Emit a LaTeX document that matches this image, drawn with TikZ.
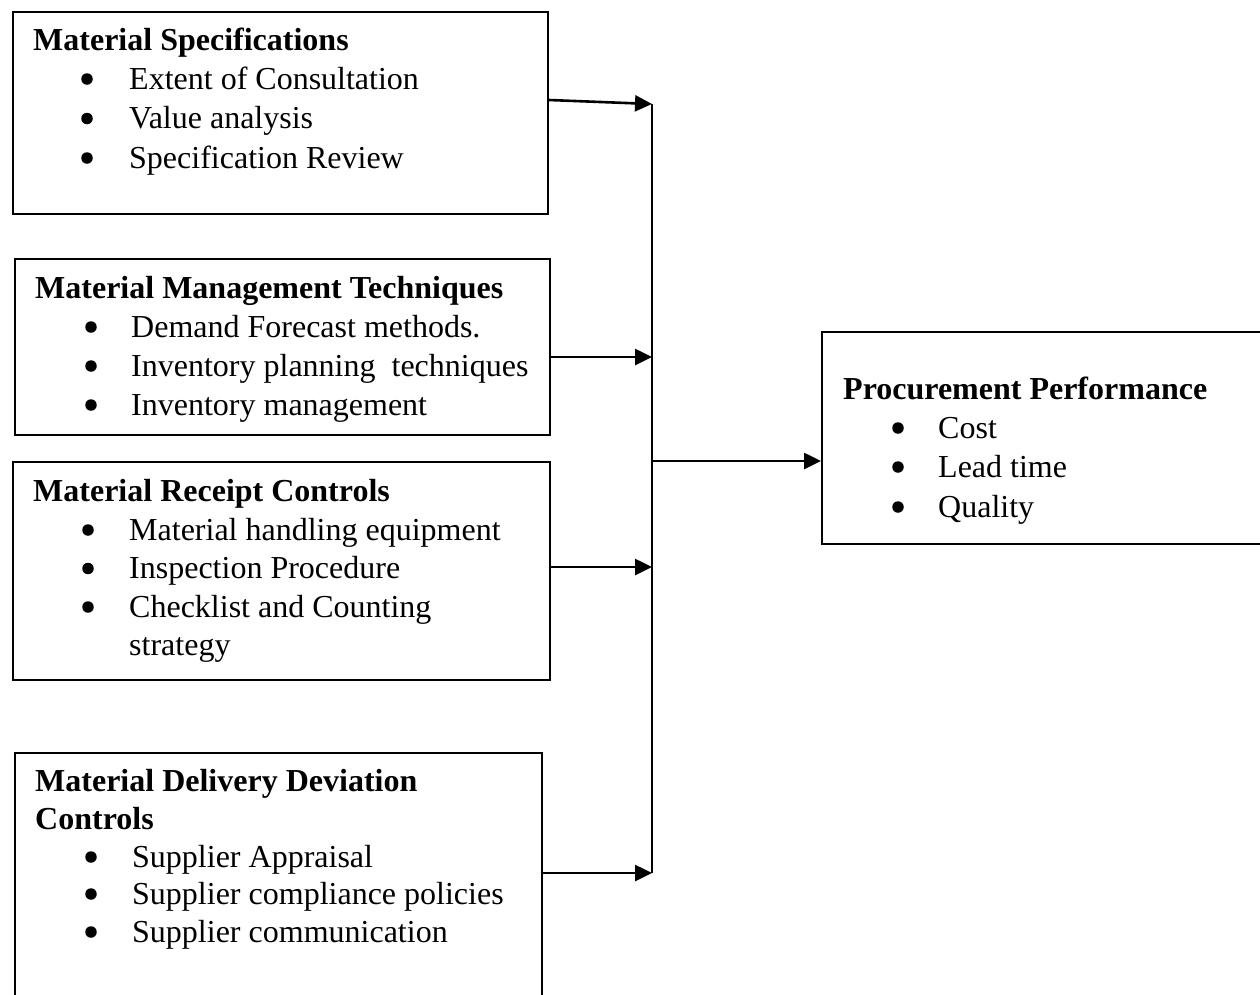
\documentclass[tikz,border=0pt]{standalone}
\usepackage{fontspec}
\setmainfont{Liberation Serif}
\usetikzlibrary{arrows.meta}
\begin{document}
\begin{tikzpicture}[x=1pt,y=1pt,
  box/.style={draw, line width=2pt, inner sep=0pt, anchor=north west},
  txt/.style={anchor=base west, inner sep=0pt, font=\fontsize{32}{38}\selectfont},
  head/.style={anchor=base west, inner sep=0pt, font=\fontsize{32}{38}\selectfont\bfseries},
  dot/.style={circle, fill, inner sep=0pt, minimum size=11.5pt},
  arr/.style={line width=2.6pt, -{Triangle[length=17pt,width=16pt]}},
  bus/.style={line width=2.2pt}]
\useasboundingbox (0,0) rectangle (1260,-994);
\clip (0,0) rectangle (1260,-994);

% frames
\node[box, minimum width=535pt, minimum height=202pt] (spec) at (12,-11) {};
\node[box, minimum width=535pt, minimum height=176pt] (mgmt) at (14,-258) {};
\node[box, minimum width=537pt, minimum height=218pt] (rcpt) at (12,-461) {};
\node[box, minimum width=527pt, minimum height=260pt] (dlv)  at (14,-752) {};
\node[box, minimum width=450pt, minimum height=212pt] (perf) at (821,-331) {};

% Material Specifications
\node[head] (specH) at (33,-50) {Material Specifications};
\node[dot] (specD1) at (87,-79) {};
\node[txt] (specT1) at (129,-89) {Extent of Consultation};
\node[dot] (specD2) at (87,-118.5) {};
\node[txt] (specT2) at (129,-128.5) {Value analysis};
\node[dot] (specD3) at (87,-158) {};
\node[txt] (specT3) at (129,-168) {Specification Review};

% Material Management Techniques
\node[head] (mgmtH) at (35,-298) {Material Management Techniques};
\node[dot] (mgmtD1) at (91,-327) {};
\node[txt] (mgmtT1) at (131,-337) {Demand Forecast methods.};
\node[dot] (mgmtD2) at (91,-366) {};
\node[txt] (mgmtT2) at (131,-376) {Inventory planning\ \ techniques};
\node[dot] (mgmtD3) at (91,-405) {};
\node[txt] (mgmtT3) at (131,-415) {Inventory management};

% Material Receipt Controls
\node[head] (rcptH) at (33,-501) {Material Receipt Controls};
\node[dot] (rcptD1) at (88,-530) {};
\node[txt] (rcptT1) at (129,-540) {Material handling equipment};
\node[dot] (rcptD2) at (88,-568.5) {};
\node[txt] (rcptT2) at (129,-578.5) {Inspection Procedure};
\node[dot] (rcptD3) at (88,-607) {};
\node[txt] (rcptT3) at (129,-617) {Checklist and Counting};
\node[txt] (rcptT4) at (129,-655) {strategy};

% Material Delivery Deviation Controls
\node[head] (dlvH1) at (35,-791) {Material Delivery Deviation};
\node[head] (dlvH2) at (35,-829) {Controls};
\node[dot] (dlvD1) at (91,-857) {};
\node[txt] (dlvT1) at (132,-867) {Supplier Appraisal};
\node[dot] (dlvD2) at (91,-894) {};
\node[txt] (dlvT2) at (132,-904) {Supplier compliance policies};
\node[dot] (dlvD3) at (91,-932) {};
\node[txt] (dlvT3) at (132,-942) {Supplier communication};

% Procurement Performance
\node[head] (perfH) at (843,-399) {Procurement Performance};
\node[dot] (perfD1) at (898,-428) {};
\node[txt] (perfT1) at (938,-438) {Cost};
\node[dot] (perfD2) at (898,-467) {};
\node[txt] (perfT2) at (938,-477) {Lead time};
\node[dot] (perfD3) at (898,-507) {};
\node[txt] (perfT3) at (938,-517) {Quality};

% collecting line and arrows
\coordinate (j1) at (652,-104);
\coordinate (j2) at (652,-357);
\coordinate (jm) at (652,-461);
\coordinate (j3) at (652,-567);
\coordinate (j4) at (652,-873);
\draw[bus] (j1) -- (j4);
\draw[arr] ([yshift=-89pt]spec.north east) -- (j1);
\draw[arr] (mgmt.east |- j2) -- (j2);
\draw[arr] (rcpt.east |- j3) -- (j3);
\draw[arr] (dlv.east |- j4) -- (j4);
\draw[arr] (jm) -- (perf.west |- jm);
\end{tikzpicture}
\end{document}
